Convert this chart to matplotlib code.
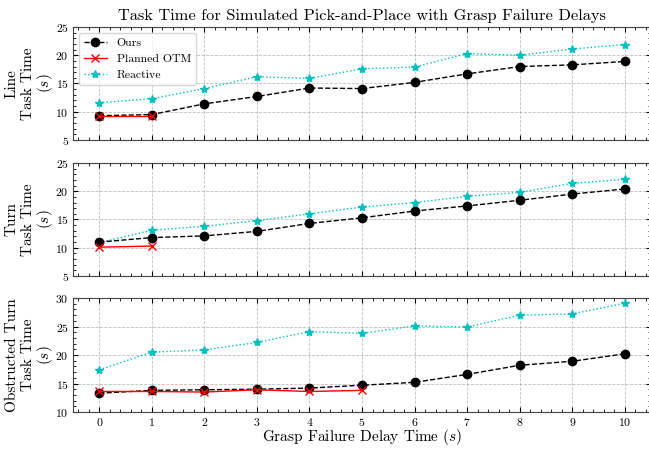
import numpy as np
import matplotlib
matplotlib.use("Agg")
import matplotlib.pyplot as plt
from matplotlib.ticker import AutoMinorLocator, MultipleLocator

plt.rcParams['font.family'] = 'cmr10'
plt.rcParams['mathtext.fontset'] = 'cm'
plt.rcParams['axes.formatter.use_mathtext'] = True

delays = np.arange(11)

# Line task
line_ours = [9.3, 9.5, 11.4, 12.7, 14.2, 14.1, 15.2, 16.7, 18.0, 18.3, 18.9]
line_otm = [9.3, 9.3]
line_reactive = [11.6, 12.3, 14.1, 16.2, 15.9, 17.6, 17.9, 20.3, 20.0, 21.1, 21.9]

# Turn task
turn_ours = [11.0, 11.8, 12.1, 12.9, 14.3, 15.3, 16.5, 17.4, 18.4, 19.5, 20.4]
turn_otm = [10.1, 10.3]
turn_reactive = [10.9, 13.1, 13.8, 14.8, 16.0, 17.2, 18.0, 19.1, 19.8, 21.4, 22.1]

# Obstructed turn task
obst_ours = [13.3, 13.8, 13.9, 14.0, 14.2, 14.7, 15.2, 16.6, 18.2, 18.9, 20.2]
obst_otm = [13.6, 13.6, 13.5, 13.9, 13.6, 13.8]
obst_reactive = [17.4, 20.5, 20.9, 22.2, 24.1, 23.8, 25.1, 24.9, 27.0, 27.2, 29.1]

panels = [
    (["Line", "Task Time", "($s$)"], line_ours, line_otm, line_reactive, (5, 25)),
    (["Turn", "Task Time", "($s$)"], turn_ours, turn_otm, turn_reactive, (5, 25)),
    (["Obstructed Turn", "Task Time", "($s$)"], obst_ours, obst_otm, obst_reactive, (10, 30)),
]

W, H = 649, 449
fig = plt.figure(figsize=(W / 100, H / 100), dpi=100)
boxes = [(0.1125, 0.6882, 0.8906, 0.2517),
         (0.1125, 0.3853, 0.8906, 0.2517),
         (0.1125, 0.0824, 0.8906, 0.2539)]
label_x = [12, 28, 45]  # pixel columns of the three y-label lines

axes = []
for box, (lines, ours, otm, reactive, ylim) in zip(boxes, panels):
    ax = fig.add_axes(box)
    ax.plot(delays, ours, "k--", marker="o", markersize=6, lw=1.0, label="Ours", zorder=3)
    ax.plot(delays[:len(otm)], otm, "r-", marker="x", markersize=6, lw=1.0, label="Planned OTM", zorder=4)
    ax.plot(delays, reactive, "c:", marker="*", markersize=6, lw=1.0, label="Reactive", zorder=2)
    ax.set_xlim(-0.5, 10.5)
    ax.set_ylim(*ylim)
    ax.set_xticks(delays)
    ax.yaxis.set_major_locator(MultipleLocator(5))
    ax.xaxis.set_minor_locator(AutoMinorLocator(5))
    ax.yaxis.set_minor_locator(AutoMinorLocator(5))
    ax.tick_params(which="both", direction="in", top=True, right=True, labelsize=8.5, pad=3)
    ax.tick_params(which="major", length=3.5)
    ax.tick_params(which="minor", length=2)
    ax.grid(True, linestyle="--", color="gray", alpha=0.5, lw=0.6)
    for s in ax.spines.values():
        s.set_color("#444444")
    yc = box[1] + box[3] / 2
    for px, txt in zip(label_x, lines):
        fig.text(px / W, yc, txt, rotation=90, ha="center", va="center", fontsize=11)
    axes.append(ax)

for ax in axes[:2]:
    ax.tick_params(labelbottom=False)

axes[0].set_title("Task Time for Simulated Pick-and-Place with Grasp Failure Delays", fontsize=11.8, pad=5)
axes[0].legend(loc="upper left", fontsize=8.5)
fig.text(362 / W, 1 - 441 / H, "Grasp Failure Delay Time ($s$)", ha="center", va="baseline", fontsize=11)

fig.savefig("out.png", dpi=100)
